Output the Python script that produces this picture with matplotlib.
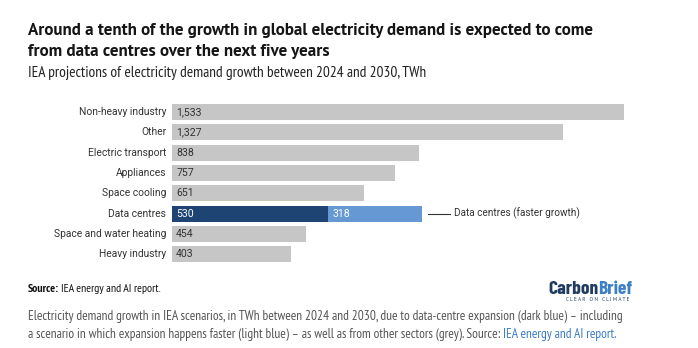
import matplotlib.pyplot as plt

sectors = ["Non-heavy industry", "Other", "Electric transport", "Appliances",
           "Space cooling", "Data centres", "Space and water heating", "Heavy industry"]
growth = [1533, 1327, 838, 757, 651, 530, 454, 403]
faster_extra = 318  # extra data-centre growth in the faster scenario

GREY = "#c6c6c6"
DARK_BLUE = "#1d4473"
LIGHT_BLUE = "#6699d4"
TEXT = "#333333"
NARROW = ["PT Sans Narrow", "DejaVu Sans"]

plt.rcParams["font.family"] = ["PT Sans", "DejaVu Sans"]

W, H = 698, 348
fig = plt.figure(figsize=(W / 100, H / 100), dpi=100)
renderer = fig.canvas.get_renderer()


def px(x, y):
    return x / W, 1 - y / H


def fit(t, width):
    # rescale a text so it spans the given width in pixels
    w = t.get_window_extent(renderer).width
    t.set_fontsize(t.get_fontsize() * width / w)
    return t


def after(t, gap=0):
    return (t.get_window_extent(renderer).x1 + gap) / W


# bars
x0, x1 = 172, 624
y_top, y_bot = 102, 264.5
ax = fig.add_axes([x0 / W, 1 - y_bot / H, (x1 - x0) / W, (y_bot - y_top) / H])
rows = list(range(len(sectors)))
colors = [DARK_BLUE if s == "Data centres" else GREY for s in sectors]
ax.barh(rows, growth, height=0.79, color=colors)
dc = sectors.index("Data centres")
ax.barh(dc, faster_extra, left=growth[dc], height=0.79, color=LIGHT_BLUE)
ax.set_xlim(0, max(growth))
ax.set_ylim(len(sectors) - 0.5, -0.5)
ax.axis("off")

for i, (s, v) in enumerate(zip(sectors, growth)):
    ax.text(-20, i, s, ha="right", va="center", fontsize=7.4, color=TEXT,
            family="Roboto")
    ax.text(14, i, f"{v:,}", ha="left", va="center", fontsize=7.6,
            color="white" if s == "Data centres" else TEXT, family="Roboto")
ax.text(growth[dc] + 14, dc, f"{faster_extra}", ha="left", va="center",
        fontsize=7.6, color="white", family="Roboto")

# annotation for the faster scenario
end = growth[dc] + faster_extra
ax.plot([end + 20, end + 95], [dc, dc], color=TEXT, lw=0.8, clip_on=False)
ax.text(end + 110, dc, "Data centres (faster growth)", ha="left", va="center",
        fontsize=7.2, color=TEXT, family="Roboto")

# titles
t1 = fig.text(*px(28, 35), "Around a tenth of the growth in global electricity demand is expected to come",
              fontsize=11, fontweight="bold", color="#151515", va="baseline")
fit(t1, 567)
fig.text(*px(28, 56), "from data centres over the next five years",
         fontsize=t1.get_fontsize(), fontweight="bold", color="#151515", va="baseline")
sub = fig.text(*px(28, 77), "IEA projections of electricity demand growth between 2024 and 2030, TWh",
               fontsize=9, color="#222222", va="baseline", family=NARROW)
fit(sub, 400)

# source line
src = fig.text(*px(28, 292), "Source:", fontsize=6.8, fontweight="bold",
               color="#111111", va="baseline", family=NARROW)
rest = fig.text(after(src, 2), 1 - 292 / H, "IEA energy and AI report.", fontsize=6.8,
                color="#111111", va="baseline", family=NARROW)
scale = 135 / (rest.get_window_extent(renderer).x1 - 28)
src.set_fontsize(6.8 * scale)
rest.set_fontsize(6.8 * scale)
rest.set_x(after(src, 2))

# logo
carbon = fig.text(*px(548, 294), "Carbon", fontsize=17, fontweight="bold",
                  color="#1f3b60", va="baseline", family="Barlow Condensed")
brief = fig.text(after(carbon), 1 - 294 / H, "Brief", fontsize=17, fontweight="bold",
                 color="#3d80c6", va="baseline", family="Barlow Condensed")
k = 84 / (brief.get_window_extent(renderer).x1 - 548)
carbon.set_fontsize(17 * k)
brief.set_fontsize(17 * k)
brief.set_x(after(carbon))
tag = fig.text(*px(566, 301), "C L E A R   O N   C L I M A T E", fontsize=2.8,
               color="#1f3b60", va="baseline")
fit(tag, 64)

# caption
CAP = "#555555"
cap1 = fig.text(*px(28, 320), "Electricity demand growth in IEA scenarios, in TWh between 2024 and 2030, "
                "due to data-centre expansion (dark blue) \u2013 including",
                fontsize=9, color=CAP, va="baseline", family=NARROW)
fit(cap1, 600)
line2 = fig.text(*px(28, 338), "a scenario in which expansion happens faster (light blue) \u2013 "
                 "as well as from other sectors (grey). Source: ",
                 fontsize=cap1.get_fontsize(), color=CAP, va="baseline", family=NARROW)
fig.text(after(line2), 1 - 338 / H, "IEA energy and AI report.", fontsize=cap1.get_fontsize(),
         color="#3a7cc6", va="baseline", family=NARROW)

fig.savefig("out.png", dpi=100)
